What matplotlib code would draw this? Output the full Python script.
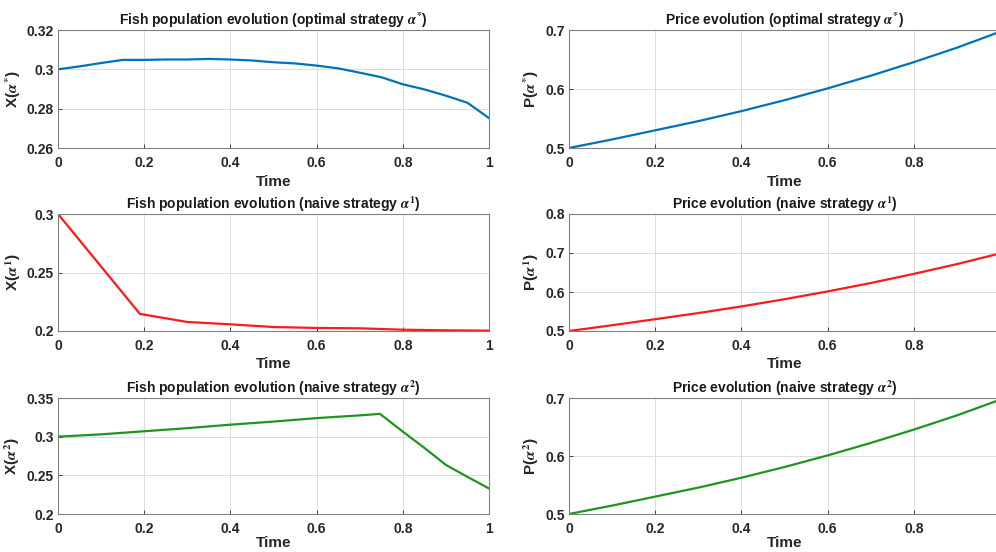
import numpy as np
import matplotlib.pyplot as plt

# time grids
t_opt = [0, 0.05, 0.1, 0.15, 0.2, 0.25, 0.3, 0.35, 0.4, 0.45, 0.5, 0.55, 0.6,
         0.65, 0.7, 0.75, 0.8, 0.85, 0.9, 0.95, 1.0]
x_opt = [0.300, 0.3015, 0.3032, 0.3048, 0.3048, 0.3050, 0.3050, 0.3053, 0.3050,
         0.3045, 0.3036, 0.3030, 0.3019, 0.3005, 0.2983, 0.2960, 0.2924, 0.2898,
         0.2866, 0.2830, 0.2752]

t_n1 = [0, 0.19, 0.3, 0.4, 0.5, 0.6, 0.7, 0.8, 0.9, 1.0]
x_n1 = [0.300, 0.2146, 0.2077, 0.2057, 0.2034, 0.2026, 0.2023, 0.2011, 0.2006, 0.2003]

t_n2 = [0, 0.1, 0.2, 0.3, 0.4, 0.5, 0.6, 0.7, 0.747, 0.8, 0.85, 0.9, 0.95, 1.0]
x_n2 = [0.300, 0.303, 0.307, 0.311, 0.3155, 0.3195, 0.324, 0.3275, 0.3295,
        0.3065, 0.2855, 0.2635, 0.2480, 0.2330]

t_p = [0, 0.1, 0.2, 0.3, 0.4, 0.5, 0.6, 0.7, 0.8, 0.9, 1.0]
p_opt = [0.500, 0.5145, 0.530, 0.5455, 0.5625, 0.581, 0.601, 0.6225, 0.6455, 0.670, 0.697]
p_n1 = [0.500, 0.5148, 0.5303, 0.5460, 0.5630, 0.5815, 0.6015, 0.6230, 0.6465, 0.6715, 0.6990]
p_n2 = [0.500, 0.5145, 0.530, 0.5455, 0.5625, 0.581, 0.601, 0.6225, 0.6455, 0.670, 0.697]

blue = "#0072BD"
red = "#FF1A1A"
green = "#1E961E"

plt.rcParams["font.family"] = "Liberation Sans"
plt.rcParams["font.weight"] = "bold"
plt.rcParams["mathtext.fontset"] = "stix"

fig = plt.figure(figsize=(9.96, 5.52), dpi=100)
W, H = 996.0, 552.0

def make_axes(left, top, right, bottom):
    return fig.add_axes([left / W, 1 - bottom / H, (right - left) / W, (bottom - top) / H])

panels = [
    # left, top, right, bottom, t, y, color, ylim, yticks, yticklabels, title, ylabel
    (58, 30, 489, 148, t_opt, x_opt, blue, (0.26, 0.32), [0.26, 0.28, 0.3, 0.32],
     ["0.26", "0.28", "0.3", "0.32"],
     r"Fish population evolution (optimal strategy $\alpha^{*}$)", r"X($\alpha^{*}$)"),
    (569, 30, 1000, 148, t_p, p_opt, blue, (0.5, 0.7), [0.5, 0.6, 0.7],
     ["0.5", "0.6", "0.7"],
     r"Price evolution (optimal strategy $\alpha^{*}$)", r"P($\alpha^{*}$)"),
    (58, 214, 489, 331, t_n1, x_n1, red, (0.2, 0.3), [0.2, 0.25, 0.3],
     ["0.2", "0.25", "0.3"],
     r"Fish population evolution (naive strategy $\alpha^{\mathbf{1}}$)", r"X($\alpha^{\mathbf{1}}$)"),
    (569, 214, 1000, 331, t_p, p_n1, red, (0.5, 0.8), [0.5, 0.6, 0.7, 0.8],
     ["0.5", "0.6", "0.7", "0.8"],
     r"Price evolution (naive strategy $\alpha^{\mathbf{1}}$)", r"P($\alpha^{\mathbf{1}}$)"),
    (58, 398, 489, 514, t_n2, x_n2, green, (0.2, 0.35), [0.2, 0.25, 0.3, 0.35],
     ["0.2", "0.25", "0.3", "0.35"],
     r"Fish population evolution (naive strategy $\alpha^{\mathbf{2}}$)", r"X($\alpha^{\mathbf{2}}$)"),
    (569, 398, 1000, 514, t_p, p_n2, green, (0.5, 0.7), [0.5, 0.6, 0.7],
     ["0.5", "0.6", "0.7"],
     r"Price evolution (naive strategy $\alpha^{\mathbf{2}}$)", r"P($\alpha^{\mathbf{2}}$)"),
]

xt = [0, 0.2, 0.4, 0.6, 0.8, 1.0]

for (l, tp, r, b, t, y, c, ylim, yt, ytl, title, ylab) in panels:
    ax = make_axes(l, tp, r, b)
    ax.plot(t, y, color=c, lw=1.6)
    ax.set_xlim(0, 1)
    ax.set_ylim(*ylim)
    ax.set_xticks(xt)
    # the right column runs off the picture, so its "1" label is not shown
    last = "1" if r < 996 else ""
    ax.set_xticklabels(["0", "0.2", "0.4", "0.6", "0.8", last])
    ax.set_yticks(yt)
    ax.set_yticklabels(ytl)
    ax.grid(True, color="#dcdcdc", lw=0.7)
    ax.set_axisbelow(True)
    ax.tick_params(direction="in", length=3, labelsize=10, colors="#262626",
                   pad=3, width=0.6)
    ax.tick_params(axis="x", pad=6)
    for lab in ax.get_xticklabels() + ax.get_yticklabels():
        lab.set_fontweight("bold")
    for s in ax.spines.values():
        s.set_color("#808080")
        s.set_linewidth(0.8)
    ax.set_title(title, fontsize=10, fontweight="bold", pad=3, color="#1a1a1a")
    lp = 0 if b > 500 else 3
    ax.set_xlabel("Time", fontsize=11, fontweight="bold", labelpad=lp, color="#262626")
    ax.set_ylabel(ylab, fontsize=11, fontweight="bold", labelpad=3, color="#262626")

fig.savefig("out.png", dpi=100)
